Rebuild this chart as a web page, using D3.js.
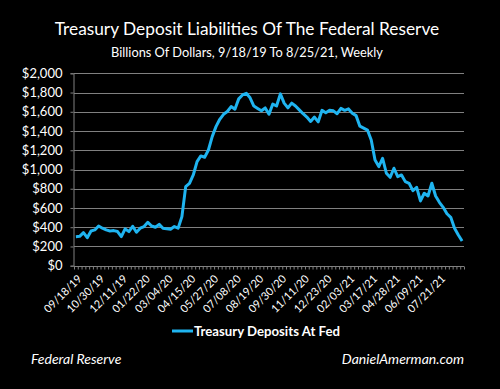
<!DOCTYPE html>
<html>
<head>
<meta charset="utf-8">
<script src="https://cdn.jsdelivr.net/npm/d3@7"></script>
<style>
  html, body { margin: 0; padding: 0; background: #000; }
  svg { display: block; font-family: Lato, "Open Sans", sans-serif; }
</style>
</head>
<body>
<svg id="chart" width="500" height="389"></svg>
<script>
// Treasury deposits at Fed, weekly, billions
const weeks = d3.timeWednesday.range(new Date(2019, 8, 18), new Date(2021, 7, 26));

const deposits = [
  302, 305, 343, 291, 361, 372, 413, 390, 372, 361,
  365, 355, 302, 383, 355, 410, 348, 390, 407, 451,
  413, 400, 430, 390, 383, 380, 407, 390, 510, 822,
  855, 943, 1082, 1141, 1127, 1203, 1342, 1446, 1522, 1574,
  1603, 1654, 1627, 1734, 1775, 1792, 1745, 1660, 1635, 1610,
  1640, 1575, 1680, 1660, 1786, 1690, 1640, 1690, 1660, 1620,
  1580, 1545, 1500, 1545, 1495, 1615, 1590, 1615, 1610, 1580,
  1635, 1615, 1630, 1585, 1560, 1450, 1430, 1410, 1307, 1099,
  1030, 1117, 961, 919, 1013, 926, 943, 874, 857, 780,
  815, 673, 753, 725, 857, 725, 659, 607, 540, 503,
  389, 319, 257
];

const tickLabels = [
  "09/18/19", "10/30/19", "12/11/19", "01/22/20", "03/04/20", "04/15/20",
  "05/27/20", "07/08/20", "08/19/20", "09/30/20", "11/11/20", "12/23/20",
  "02/03/21", "03/17/21", "04/28/21", "06/09/21", "07/21/21"
];
const labelEvery = 6;

const yTicks = [0, 200, 400, 600, 800, 1000, 1200, 1400, 1600, 1800, 2000];

const lineColor = "#1fb4f0";
const gridColor = "#808080";

const svg = d3.select("#chart");
const plotLeft = 74, plotRight = 464, plotTop = 73.3, plotBottom = 265.7;

const n = deposits.length;
const x = d3.scaleLinear().domain([0, n]).range([plotLeft, plotRight]);
const y = d3.scaleLinear().domain([0, 2000]).range([plotBottom, plotTop]);

// titles
svg.append("text")
  .attr("x", 247).attr("y", 35)
  .attr("text-anchor", "middle")
  .attr("fill", "#fff")
  .style("font-size", "17.3px")
  .text("Treasury Deposit Liabilities Of The Federal Reserve");

svg.append("text")
  .attr("x", 247).attr("y", 57)
  .attr("text-anchor", "middle")
  .attr("fill", "#fff")
  .style("font-size", "12.8px")
  .text("Billions Of Dollars, 9/18/19 To 8/25/21, Weekly");

// gridlines
svg.append("g")
  .selectAll("line")
  .data(yTicks.filter(d => d > 0))
  .enter().append("line")
  .attr("x1", plotLeft).attr("x2", plotRight)
  .attr("y1", d => Math.round(y(d)) + 0.5)
  .attr("y2", d => Math.round(y(d)) + 0.5)
  .attr("stroke", gridColor)
  .attr("stroke-width", 1);

// y axis
const yAxis = svg.append("g")
  .attr("transform", `translate(${plotLeft - 0.5},0)`)
  .call(d3.axisLeft(y).tickValues(yTicks).tickSize(3).tickPadding(8)
    .tickFormat(d => "$" + d3.format(",")(d)));
yAxis.selectAll("path, line").attr("stroke", gridColor);
yAxis.selectAll("text")
  .attr("fill", "#fff")
  .style("font-size", "13px")
  .style("font-family", "Lato, sans-serif");

// x axis: a tick at every week boundary
const xAxis = svg.append("g")
  .attr("transform", `translate(0,${Math.round(plotBottom) + 0.5})`)
  .call(d3.axisBottom(x).tickValues(d3.range(0, n + 1)).tickSize(3).tickFormat(""));
xAxis.selectAll("path").attr("stroke", gridColor).attr("d", `M${plotLeft},0H${plotRight}`);
xAxis.selectAll("line").attr("stroke", gridColor);

svg.append("g")
  .selectAll("text")
  .data(tickLabels)
  .enter().append("text")
  .attr("transform", (d, i) => `translate(${x(i * labelEvery + 0.5) + 4},${plotBottom + 11}) rotate(-45)`)
  .attr("text-anchor", "end")
  .attr("dy", "0.35em")
  .attr("fill", "#fff")
  .style("font-size", "11px")
  .text(d => d);

// series line
const line = d3.line()
  .x((d, i) => x(i + 0.5))
  .y(d => y(d));

svg.append("path")
  .datum(deposits)
  .attr("d", line)
  .attr("fill", "none")
  .attr("stroke", lineColor)
  .attr("stroke-width", 3)
  .attr("stroke-linejoin", "round");

// legend
svg.append("line")
  .attr("x1", 172).attr("x2", 193)
  .attr("y1", 331).attr("y2", 331)
  .attr("stroke", lineColor)
  .attr("stroke-width", 3);
svg.append("text")
  .attr("x", 194).attr("y", 336)
  .attr("fill", "#fff")
  .style("font-size", "13.2px")
  .style("font-weight", "bold")
  .text("Treasury Deposits At Fed");

// footer
svg.append("text")
  .attr("x", 31).attr("y", 364)
  .attr("fill", "#fff")
  .style("font-size", "14px")
  .style("font-style", "italic")
  .text("Federal Reserve");
svg.append("text")
  .attr("x", 464).attr("y", 364)
  .attr("text-anchor", "end")
  .attr("fill", "#fff")
  .style("font-size", "14px")
  .style("font-style", "italic")
  .text("DanielAmerman.com");
</script>
</body>
</html>
